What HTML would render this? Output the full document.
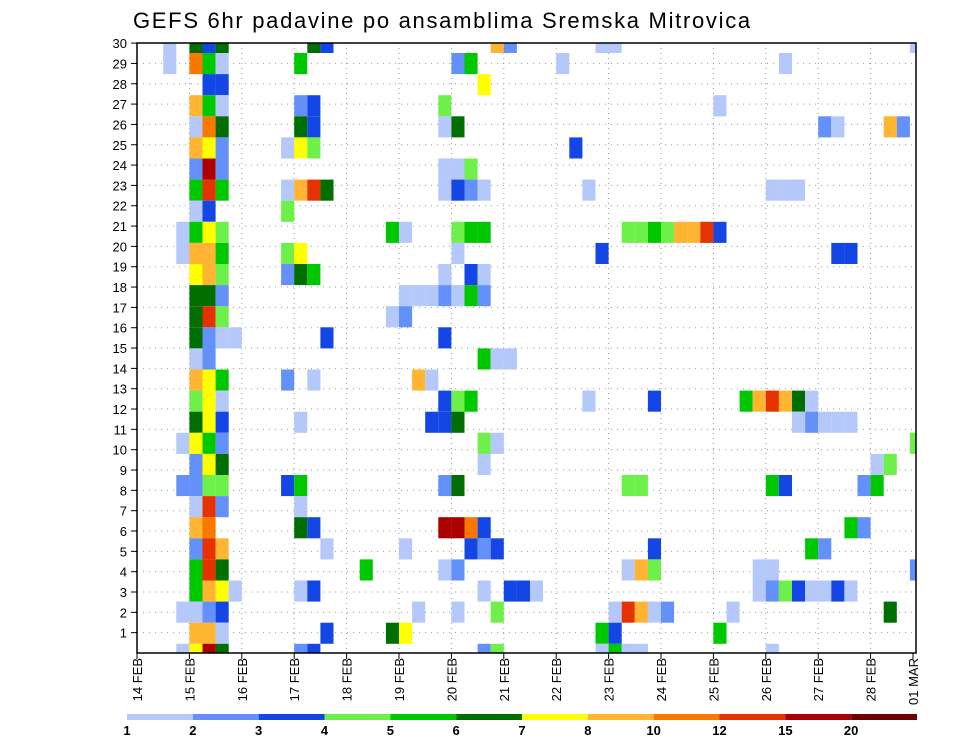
<!DOCTYPE html>
<html><head><meta charset="utf-8"><style>
body{margin:0;background:#fff;}
svg{display:block;font-family:"Liberation Sans",sans-serif;}
</style></head><body>
<svg id="chart" width="960" height="742" viewBox="0 0 960 742">
<rect width="960" height="742" fill="#fff"/>
<text x="133" y="28" font-size="22" fill="#000" letter-spacing="1.7">GEFS 6hr padavine po ansamblima Sremska Mitrovica</text>
<g id="grid"></g><g id="cells"></g><g id="axes"></g><g id="colorbar"></g>
</svg>
<script>
const memberLabels = [1,2,3,4,5,6,7,8,9,10,11,12,13,14,15,16,17,18,19,20,21,22,23,24,25,26,27,28,29,30];
const dayLabels = ["14 FEB","15 FEB","16 FEB","17 FEB","18 FEB","19 FEB","20 FEB","21 FEB","22 FEB","23 FEB","24 FEB","25 FEB","26 FEB","27 FEB","28 FEB","01 MAR"];
const levelColors = ["#b4c8fa","#6490fa","#1446e6","#6ef04b","#00c800","#006e00","#ffff00","#ffb432","#fa7800","#e63200","#aa0000","#700000"];
const levelLabels = ["1","2","3","4","5","6","7","8","10","12","15","20"];
// rowCells[band] = list of [sixHourIndex, level]; band 0 = top
const rowCells = [
[[2,1],[4,6],[5,3],[6,6],[13,6],[14,3],[27,8],[28,2],[35,1],[36,1],[59,1]],
[[2,1],[4,9],[5,5],[6,1],[12,5],[24,2],[25,5],[32,1],[49,1]],
[[5,3],[6,3],[26,7]],
[[4,8],[5,5],[6,1],[12,2],[13,3],[23,4],[44,1]],
[[4,1],[5,9],[6,6],[12,6],[13,3],[23,1],[24,6],[52,2],[53,1],[57,8],[58,2]],
[[4,8],[5,7],[6,2],[11,1],[12,7],[13,4],[33,3]],
[[4,2],[5,11],[6,2],[23,1],[24,1],[25,4]],
[[4,5],[5,10],[6,5],[11,1],[12,8],[13,10],[14,6],[23,1],[24,3],[25,2],[26,1],[34,1],[48,1],[49,1],[50,1]],
[[4,1],[5,3],[11,4]],
[[3,1],[4,5],[5,7],[6,4],[19,5],[20,1],[24,4],[25,5],[26,5],[37,4],[38,4],[39,5],[40,4],[41,8],[42,8],[43,10],[44,3]],
[[3,1],[4,8],[5,8],[6,5],[11,4],[12,7],[24,1],[35,3],[53,3],[54,3]],
[[4,7],[5,8],[6,4],[11,2],[12,6],[13,5],[23,1],[25,3],[26,1]],
[[4,6],[5,6],[6,2],[20,1],[21,1],[22,1],[23,2],[24,1],[25,5],[26,2]],
[[4,6],[5,10],[6,4],[19,1],[20,2]],
[[4,6],[5,2],[6,1],[7,1],[14,3],[23,3]],
[[4,1],[5,2],[26,5],[27,1],[28,1]],
[[4,8],[5,7],[6,5],[11,2],[13,1],[21,8],[22,1]],
[[4,4],[5,7],[6,1],[23,3],[24,4],[25,5],[34,1],[39,3],[46,5],[47,8],[48,10],[49,8],[50,6],[51,1]],
[[4,6],[5,7],[6,3],[12,1],[22,3],[23,3],[24,6],[50,1],[51,2],[52,1],[53,1],[54,1]],
[[3,1],[4,7],[5,5],[6,2],[26,4],[27,1],[59,4]],
[[4,2],[5,7],[6,6],[26,1],[56,1],[57,4]],
[[3,2],[4,2],[5,4],[6,4],[11,3],[12,5],[23,2],[24,6],[37,4],[38,4],[48,5],[49,3],[55,2],[56,5]],
[[4,1],[5,10],[6,2],[12,1]],
[[4,8],[5,9],[12,6],[13,3],[23,11],[24,11],[25,9],[26,3],[54,5],[55,2]],
[[4,2],[5,10],[6,8],[14,1],[20,1],[25,3],[26,2],[27,3],[39,3],[51,5],[52,2]],
[[4,5],[5,10],[6,6],[17,5],[23,1],[24,2],[37,1],[38,8],[39,4],[47,1],[48,1],[59,2]],
[[4,5],[5,8],[6,7],[7,1],[12,1],[13,3],[26,1],[28,3],[29,3],[30,1],[47,1],[48,2],[49,4],[50,3],[51,1],[52,1],[53,3],[54,1]],
[[3,1],[4,1],[5,2],[6,3],[21,1],[24,1],[27,4],[36,1],[37,10],[38,8],[39,1],[40,2],[45,1],[57,6]],
[[4,8],[5,8],[6,1],[14,3],[19,6],[20,7],[35,5],[36,3],[44,5]],
[[3,1],[4,7],[5,11],[6,6],[12,2],[13,3],[26,2],[27,4],[35,1],[36,5],[37,1],[38,1],[48,1]]
];
const NS="http://www.w3.org/2000/svg";
const L=137,R=916,T=43,B=653,DAY=52.4,COL=DAY/4,BAND=21.1;
function xCol(i){return L+i*COL;}
function xDay(d){return L+d*DAY;}
function yTick(k){return B-k*20.33;}
function bandTop(j){return Math.max(T,53+(j-1)*BAND);}
function bandBot(j){return Math.min(B,53+j*BAND);}
function mk(tag,attrs,parent){const e=document.createElementNS(NS,tag);for(const k in attrs)e.setAttribute(k,attrs[k]);parent.appendChild(e);return e;}
const grid=document.getElementById('grid'),cells=document.getElementById('cells'),axes=document.getElementById('axes'),cb=document.getElementById('colorbar');
dayLabels.forEach((d,i)=>{const x=xDay(i);if(x>L&&x<R){const l=mk('line',{x1:x,y1:T,x2:x,y2:B,stroke:'#999','stroke-width':1,'stroke-dasharray':'1,4'},grid);

}});
memberLabels.forEach(k=>{const y=yTick(k);const l=mk('line',{x1:L,y1:y,x2:R,y2:y,stroke:'#999','stroke-width':1,'stroke-dasharray':'1,5'},grid);

});
rowCells.forEach((row,j)=>{row.forEach(c=>{const x0=Math.max(L,xCol(c[0])),x1=Math.min(R,xCol(c[0]+1));if(x1<=x0)return;
const r=mk('rect',{x:x0,y:bandTop(j),width:x1-x0,height:bandBot(j)-bandTop(j),fill:levelColors[c[1]-1]},cells);

});});
const fr=mk('rect',{x:L,y:T,width:R-L,height:B-T,fill:'none',stroke:'#000','stroke-width':1.5},axes);


memberLabels.forEach(k=>{const y=yTick(k);mk('line',{x1:L-6,y1:y,x2:L,y2:y,stroke:'#000'},axes);
const t=mk('text',{x:L-10,y:y+5,'text-anchor':'end','font-size':13},axes);t.textContent=k;

});
dayLabels.forEach((d,i)=>{const x=Math.min(xDay(i),R-3);mk('line',{x1:x,y1:B,x2:x,y2:B+6,stroke:'#000'},axes);
const t=mk('text',{x:0,y:0,'text-anchor':'end','font-size':13,transform:`translate(${x+5},658) rotate(-90)`},axes);t.textContent=d;

});
const cw=(917-127)/levelColors.length;
levelColors.forEach((c,i)=>{const r=mk('rect',{x:127+i*cw,y:714,width:cw,height:6,fill:c},cb);


const t=mk('text',{x:127+i*cw,y:735,'text-anchor':'middle','font-size':13,'font-weight':'bold'},cb);t.textContent=levelLabels[i];

});
</script>
</body></html>
